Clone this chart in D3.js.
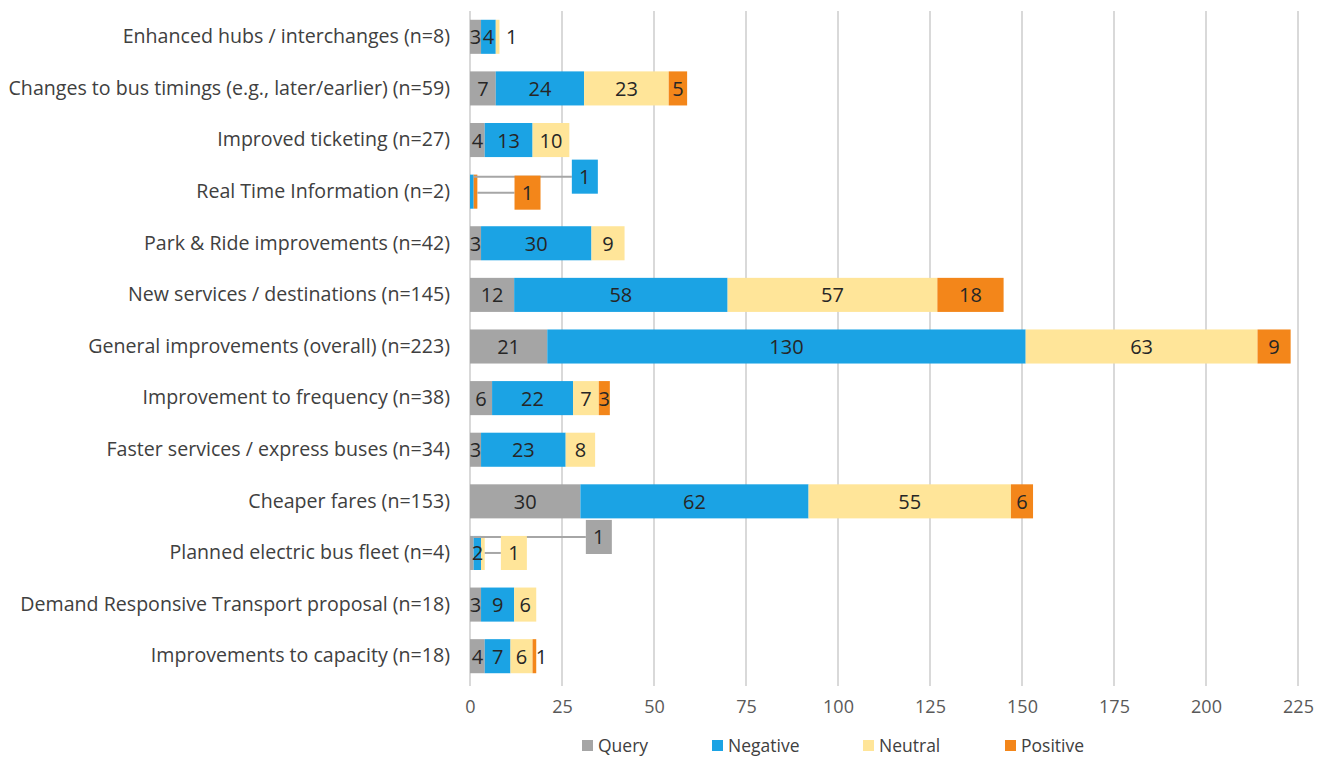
<!DOCTYPE html>
<html>
<head>
<meta charset="utf-8">
<script src="https://cdn.jsdelivr.net/npm/d3@7"></script>
<style>
  html, body { margin: 0; padding: 0; background: #fff; }
  svg { display: block; font-family: "Open Sans", sans-serif; }
</style>
</head>
<body>
<svg id="chart" width="1332" height="757"></svg>
<script>
// Feedback themes and the count of comments by sentiment
const categories = [
  "Enhanced hubs / interchanges (n=8)",
  "Changes to bus timings (e.g., later/earlier) (n=59)",
  "Improved ticketing (n=27)",
  "Real Time Information (n=2)",
  "Park & Ride improvements (n=42)",
  "New services / destinations (n=145)",
  "General improvements (overall) (n=223)",
  "Improvement to frequency (n=38)",
  "Faster services / express buses (n=34)",
  "Cheaper fares (n=153)",
  "Planned electric bus fleet (n=4)",
  "Demand Responsive Transport proposal (n=18)",
  "Improvements to capacity (n=18)"
];
const seriesNames = ["Query", "Negative", "Neutral", "Positive"];
const query    = [3, 7, 4, 0, 3, 12, 21, 6, 3, 30, 1, 3, 4];
const negative = [4, 24, 13, 1, 30, 58, 130, 22, 23, 62, 2, 9, 7];
const neutral  = [1, 23, 10, 0, 9, 57, 63, 7, 8, 55, 1, 6, 6];
const positive = [0, 5, 0, 1, 0, 18, 9, 3, 0, 6, 0, 0, 1];
const xTicks = [0, 25, 50, 75, 100, 125, 150, 175, 200, 225];

const colors = { Query: "#a5a5a5", Negative: "#1ba3e4", Neutral: "#ffe599", Positive: "#f3861a" };
const FONT = "'Open Sans', sans-serif";

// Labels that sit outside their segment: offset from the segment centre (px);
// "callout" labels get a filled box and a leader line back to the bar.
const labelPlacement = {
  "0|Neutral":  { dx: 14, dy: 0 },
  "12|Positive": { dx: 7, dy: 0 },
  "3|Negative": { dx: 113, dy: -15, callout: true },
  "3|Positive": { dx: 52, dy: 1, callout: true },
  "10|Query":   { dx: 127, dy: -16, callout: true },
  "10|Neutral": { dx: 31, dy: 0, callout: true }
};

const rows = categories.map((c, i) => ({
  idx: i, category: c,
  Query: query[i], Negative: negative[i], Neutral: neutral[i], Positive: positive[i]
}));

const svg = d3.select("#chart");
const x = d3.scaleLinear().domain([0, 225]).range([470, 1298]);
const y = d3.scaleBand().domain(categories).range([11, 682]).paddingInner(0.34).paddingOuter(0.17);

// Vertical gridlines
svg.append("g").selectAll("line").data(xTicks).join("line")
  .attr("x1", d => x(d)).attr("x2", d => x(d))
  .attr("y1", 11).attr("y2", 686)
  .attr("stroke", "#d9d9d9").attr("stroke-width", 2);

// X axis tick labels
const xAxis = d3.axisBottom(x).tickValues(xTicks).tickSize(0).tickPadding(0);
const gx = svg.append("g").attr("transform", "translate(0,700)").call(xAxis);
gx.select(".domain").remove();
gx.selectAll("text").attr("font-family", FONT).attr("font-size", 18).attr("fill", "#595959");

// Category labels
const yAxis = d3.axisLeft(y).tickSize(0).tickPadding(20);
const gy = svg.append("g").attr("transform", "translate(470,0)").call(yAxis);
gy.select(".domain").remove();
gy.selectAll("text").attr("font-family", FONT).attr("font-size", 19.6).attr("fill", "#404040");

// Stacked segments
const stacked = d3.stack().keys(seriesNames)(rows);
const segs = [];
stacked.forEach(layer => {
  layer.forEach(d => {
    segs.push({ key: layer.key, idx: d.data.idx, category: d.data.category, x0: d[0], x1: d[1], value: d[1] - d[0] });
  });
});

svg.append("g").selectAll("rect").data(segs.filter(s => s.value > 0)).join("rect")
  .attr("x", d => x(d.x0))
  .attr("y", d => y(d.category))
  .attr("width", d => x(d.x1) - x(d.x0))
  .attr("height", y.bandwidth())
  .attr("fill", d => colors[d.key]);

// Data labels
const lbl = svg.append("g");
segs.filter(s => s.value > 0).forEach(s => {
  const cx = (x(s.x0) + x(s.x1)) / 2;
  const cy = y(s.category) + y.bandwidth() / 2;
  const p = labelPlacement[s.idx + "|" + s.key];
  let tx = cx, ty = cy;
  if (p) {
    tx = cx + p.dx; ty = cy + p.dy;
    if (p.callout) {
      const w = 26, h = y.bandwidth();
      lbl.append("line")
        .attr("x1", x(s.x1)).attr("x2", tx - w / 2)
        .attr("y1", ty).attr("y2", ty)
        .attr("stroke", "#a6a6a6").attr("stroke-width", 2);
      lbl.append("rect")
        .attr("x", tx - w / 2).attr("y", ty - h / 2)
        .attr("width", w).attr("height", h)
        .attr("fill", colors[s.key]);
    }
  }
  lbl.append("text")
    .attr("x", tx).attr("y", ty)
    .attr("text-anchor", "middle").attr("dominant-baseline", "central")
    .attr("font-family", FONT).attr("font-size", 20)
    .attr("fill", "#262626")
    .text(s.value);
});

// Legend
const legendX = { Query: 582, Negative: 712, Neutral: 863, Positive: 1005 };
const lg = svg.append("g");
seriesNames.forEach(k => {
  lg.append("rect").attr("x", legendX[k]).attr("y", 740).attr("width", 11).attr("height", 11).attr("fill", colors[k]);
  lg.append("text").attr("x", legendX[k] + 16).attr("y", 745)
    .attr("dominant-baseline", "central")
    .attr("font-family", FONT).attr("font-size", 17.5).attr("fill", "#404040")
    .text(k);
});
</script>
</body>
</html>
